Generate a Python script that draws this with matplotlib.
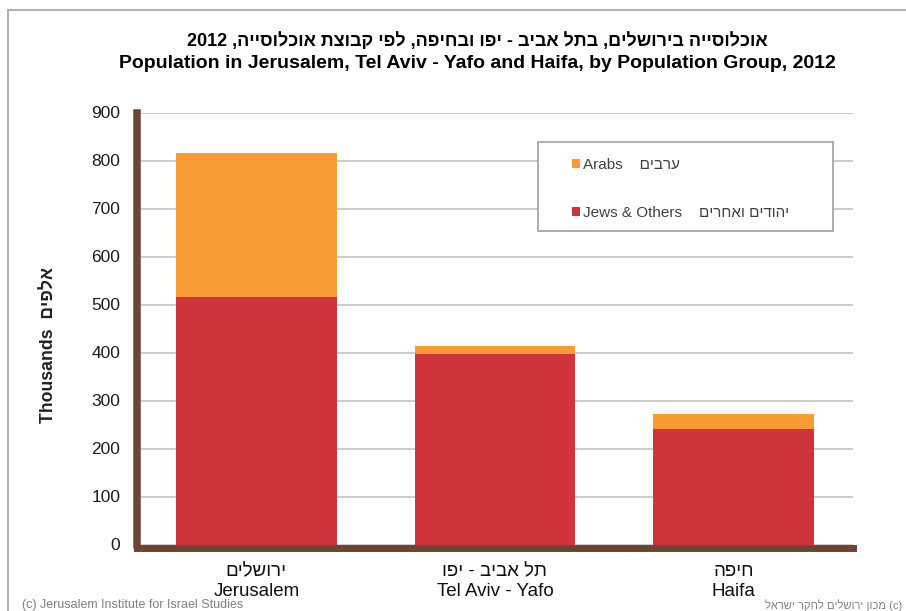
import re
import numpy as np
import matplotlib
matplotlib.use("Agg")
import matplotlib.pyplot as plt
from matplotlib.patches import Rectangle

plt.rcParams['font.family'] = ['Liberation Sans', 'DejaVu Sans']

# data (thousands)
cities_he = ["ירושלים", "תל אביב - יפו", "חיפה"]
cities_en = ["Jerusalem", "Tel Aviv - Yafo", "Haifa"]
jews_others = [515, 397, 241]
arabs = [300, 17, 31]
yticks = [0, 100, 200, 300, 400, 500, 600, 700, 800, 900]

RED = "#CF343C"
ORANGE = "#F79C34"
BROWN = "#6B4530"


def vis(s):
    # matplotlib has no bidi: flip hebrew to visual order, keep latin/digit runs
    return re.sub(r'[0-9A-Za-z()]+', lambda m: m.group()[::-1], s[::-1])


fig = plt.figure(figsize=(9.06, 6.11), dpi=100)
ax = fig.add_axes([137 / 906, 1 - 544.5 / 611, 716 / 906, 432 / 611])

x = np.arange(len(cities_en))
b1 = ax.bar(x, jews_others, width=0.674, color=RED, linewidth=0, zorder=2)
b2 = ax.bar(x, arabs, bottom=jews_others, width=0.674, color=ORANGE, linewidth=0, zorder=2)

ax.set_xlim(-0.5, 2.5)
ax.set_ylim(0, 900)
ax.set_yticks(yticks)
ax.yaxis.grid(True, color="#C8C8C8", linewidth=1.3, zorder=0)
ax.set_axisbelow(True)

for s in ["top", "right"]:
    ax.spines[s].set_visible(False)
ax.spines["left"].set_color(BROWN)
ax.spines["left"].set_linewidth(5.4)
ax.spines["bottom"].set_color(BROWN)
ax.spines["bottom"].set_linewidth(5.0)
ax.spines["bottom"].set_position(("outward", 2.2))
ax.spines["left"].set_zorder(3)
ax.spines["bottom"].set_zorder(3)

ax.tick_params(axis="y", length=0, pad=12, labelsize=12.5, labelcolor="#1a1a1a")
ax.tick_params(axis="x", length=0, pad=11, labelsize=13.5, labelcolor="#111111")
ax.set_xticks(x, [vis(h) + "\n" + e for h, e in zip(cities_he, cities_en)])
for lbl in ax.get_xticklabels():
    lbl.set_linespacing(1.25)

# titles
fig.text(477 / 906, 1 - 41 / 611,
         vis("אוכלוסייה בירושלים, בתל אביב - יפו ובחיפה, לפי קבוצת אוכלוסייה, 2012"),
         ha="center", va="center", fontsize=13, fontweight="bold")
fig.text(477 / 906, 1 - 63 / 611,
         "Population in Jerusalem, Tel Aviv - Yafo and Haifa, by Population Group, 2012",
         ha="center", va="center", fontsize=14, fontweight="bold")

fig.text(49 / 906, 1 - 345 / 611, "Thousands  " + vis("אלפים"),
         rotation=90, ha="center", va="center", fontsize=12.7, fontweight="bold",
         color="#222222")

# legend
fig.patches.append(Rectangle((538 / 906, 1 - 231 / 611), 295 / 906, 89 / 611,
                             transform=fig.transFigure, facecolor="white",
                             edgecolor="#A0A0A0", linewidth=1.2, zorder=5))
leg = fig.legend([b2, b1],
                 ["Arabs    " + vis("ערבים"), "Jews & Others    " + vis("יהודים ואחרים")],
                 loc="upper left", bbox_to_anchor=(566 / 906, 1 - 152 / 611),
                 frameon=False, fontsize=11, handlelength=0.5, handleheight=0.5,
                 handletextpad=0.2, labelspacing=2.2, borderaxespad=0)
leg.set_zorder(6)
for t in leg.get_texts():
    t.set_color("#404040")

# outer frame
fig.patches.append(Rectangle((8 / 906, -0.05), 1.0, 1 - 10.5 / 611 + 0.05,
                             transform=fig.transFigure, facecolor="none",
                             edgecolor="#A0A0A0", linewidth=1.2))

# footers
fig.text(22 / 906, 1 - 605 / 611, "(c) Jerusalem Institute for Israel Studies",
         ha="left", va="center", fontsize=9, color="#808080")
fig.text(902 / 906, 1 - 605 / 611, vis("(c) מכון ירושלים לחקר ישראל"),
         ha="right", va="center", fontsize=8, color="#808080")

fig.savefig("out.png", dpi=100)
